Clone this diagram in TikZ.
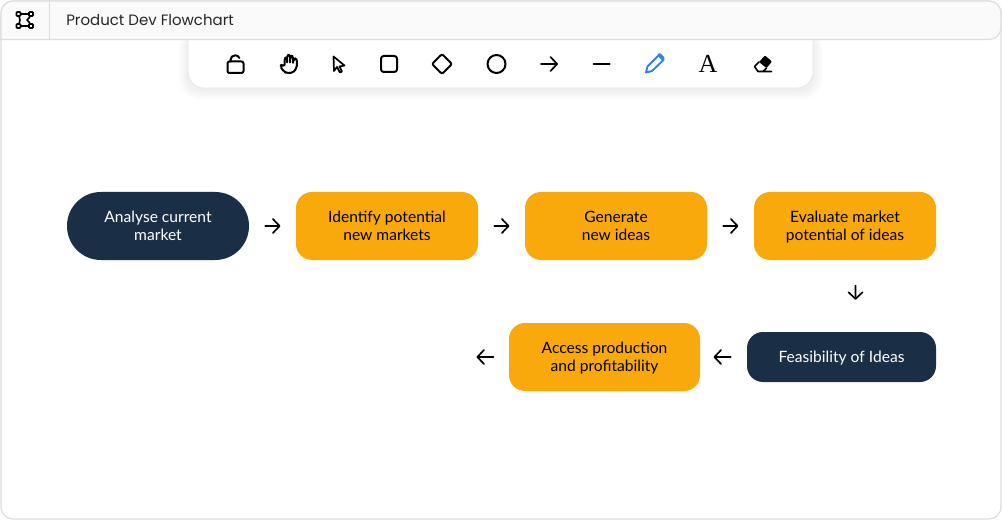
\documentclass[tikz,border=0pt]{standalone}
\usepackage{fontspec}
\setmainfont{Lato}
\newfontfamily\titlefont{Poppins}
\newfontfamily\iconfont{Liberation Serif}
\usetikzlibrary{arrows.meta}
\definecolor{navyfill}{HTML}{1A2F45}
\definecolor{amberfill}{HTML}{F9A90B}
\definecolor{framecol}{HTML}{DDDDDD}
\definecolor{headfill}{HTML}{FAFAFA}
\definecolor{penblue}{HTML}{2B86E0}
\newcommand\flowstrut{\rule[-2.3pt]{0pt}{12.5pt}}
\newcommand\flowlines[2]{\flowstrut#1\\\flowstrut#2}
\tikzset{
	flowbox/.style={align=center,inner sep=0pt,rounded corners=12pt,minimum width=136.5pt,minimum height=51pt,font=\fontsize{11.7}{13.5}\selectfont},
	navybox/.style={flowbox,fill=navyfill,text=white},
	amberbox/.style={flowbox,fill=amberfill,text=black},
	flowarrow/.style={line width=1.25pt,line cap=round,-{Straight Barb[length=5pt,width=10.5pt,line cap=round,round]}},
	icon/.style={line width=1.5pt,line cap=round,line join=round},
}
\begin{document}
\begin{tikzpicture}[x=.75pt,y=-.75pt]
	\useasboundingbox (0,0) rectangle (1002,520);
	
	% window
	\draw[framecol,fill=white,line width=.9pt] (1,1) [rounded corners=9pt] rectangle (1001,519);
	
	% toolbar with its soft shadow
	\foreach \grow in {10,8,6,4,2}
		\fill[black,opacity=.012,rounded corners=12pt+\grow*.5pt]
			(188-\grow,30) rectangle (813+\grow,90+\grow);
	\draw[framecol!70,fill=white,line width=.6pt,rounded corners=12pt] (188,20) rectangle (813,88);
	
	% header
	\draw[framecol,fill=headfill,line width=.9pt,rounded corners=9pt] (1,39.5) -- (1,1) -- (1001,1) -- (1001,39.5) [sharp corners] -- cycle;
	\draw[framecol,line width=.9pt] (49.5,1) -- (49.5,39.5);
	\node[anchor=west,inner sep=0pt,font=\titlefont\fontsize{11.25}{13}\selectfont,text=black!85] (title) at (66,20) {Product Dev Flowchart};
	\draw[line width=1.2pt,line join=round] (18,14) -- (31,14) (18,26) -- (31,26) (18.5,14) -- (20,20) -- (18.5,26) (31,14) -- (29,18) -- (27,20) -- (29,22) -- (31,26);
	\foreach \cx/\cy in {18.5/14,31/14,18.5/26,31/26}
		\draw[line width=1.2pt,fill=white,rounded corners=.5pt] (\cx-2,\cy-2) rectangle (\cx+2,\cy+2);
	
	% toolbar icons
	\draw[icon,rounded corners=1.5pt] (227.5,61.5) rectangle (243.5,73);
	\draw[icon] (230.5,61.5) -- (230.5,60) arc[start angle=180,end angle=335,radius=4.7];
	\draw[icon,rounded corners=1.5pt] (284.5,72) -- (280,66.5) -- (281.8,64.3) -- (284.5,66.5) -- (284.5,58) -- (287,57.5) -- (287,63.5) -- (287.3,55) -- (290,55) -- (290,63.5)
		-- (290.5,56) -- (293,56) -- (293,64) -- (293.5,58.5) -- (296.8,58.5) -- (296.8,68) -- (292.5,73) -- (286.5,73) -- cycle;
	\draw[icon,line width=1.3pt] (333.5,56.5) -- (344.5,65.5) -- (339.5,66.5) -- (342,71.5) -- (340,72.5) -- (337,67) -- (334,71) -- cycle;
	\draw[icon,rounded corners=2pt] (381,56) rectangle (397,72);
	\draw[icon,rounded corners=1.5pt] (442,54) -- (452,64) -- (442,74) -- (432,64) -- cycle;
	\draw[icon] (496.5,64) circle (9);
	\coordinate (toolstart) at (541,64);
	\coordinate (toolend) at (558,64);
	\draw[flowarrow] (toolstart) -- (toolend);
	\draw[icon] (593.5,64) -- (609.5,64);
	\draw[penblue,icon,line width=1.4pt] (646,72.5) -- (647.5,66.5) -- (658.5,55.5) -- (663.5,60) -- (652,71) -- cycle;
	\fill[penblue,rounded corners=.8pt] (657,55) -- (659.5,52.5) -- (665,58) -- (662.5,60.5) -- cycle;
	\node[inner sep=0pt,font=\iconfont\fontsize{19.5}{20}\selectfont,text=black] (fonticon) at (708,63.5) {A};
	\fill[black,rounded corners=.6pt] (759,62) -- (765,55.5) -- (772,61.5) -- (766.5,68) -- cycle;
	\draw[icon,line width=1.2pt] (759,62) -- (754.5,66.5) -- (758,71.5) -- (771.5,71.5) (758,71.5) -- (763,71.5) -- (766.5,68);
	
	% flow nodes
	\node[navybox,rounded corners=25.4pt] (analyse) at (158,226) {\flowlines{Analyse current}{market}};
	\node[amberbox] (identify) at (387,226) {\flowlines{Identify potential}{new markets}};
	\node[amberbox] (generate) at (616,226) {\flowlines{Generate}{new ideas}};
	\node[amberbox] (evaluate) at (845,226) {\flowlines{Evaluate market}{potential of ideas}};
	\node[navybox,minimum width=141.75pt,minimum height=37.5pt] (feasibility) at (841.5,357) {\flowstrut Feasibility of Ideas};
	\node[amberbox,minimum width=143.25pt] (access) at (604.5,357) {\flowlines{Access production}{and profitability}};
	\coordinate (accessend) at (476.5,357);
	
	% connectors stop short of the boxes
	\draw[flowarrow,shorten <=12pt,shorten >=11.5pt] (analyse) -- (identify);
	\draw[flowarrow,shorten <=12pt,shorten >=11.5pt] (identify) -- (generate);
	\draw[flowarrow,shorten <=12pt,shorten >=11.5pt] (generate) -- (evaluate);
	\draw[flowarrow,shorten <=19pt,shorten >=24pt] ([xshift=7.9pt]evaluate.south) -- ([xshift=10.5pt]feasibility.north);
	\draw[flowarrow,shorten <=12pt,shorten >=10pt] (feasibility) -- (access);
	\draw[flowarrow,shorten <=11.5pt] (access) -- (accessend);
\end{tikzpicture}
\end{document}
